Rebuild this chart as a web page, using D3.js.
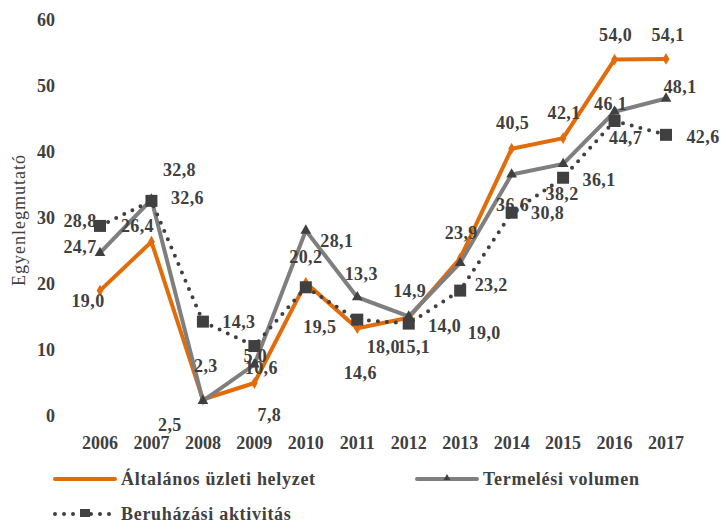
<!DOCTYPE html>
<html lang="hu">
<head>
<meta charset="UTF-8">
<title>Egyenlegmutató</title>
<style>
  body { margin: 0; background: #fff; }
  svg text { font-family: "Palatino Linotype", "Book Antiqua", "Liberation Serif", serif; fill: #404040; }
  .tick { font-weight: bold; font-size: 18px; }
  .lbl { font-weight: bold; font-size: 18px; letter-spacing: 0.4px; }
  .legend { font-weight: bold; font-size: 18px; letter-spacing: 0.7px; }
</style>
</head>
<body>
<script src="https://d3js.org/d3.v7.min.js"></script>
<script>
const years = ["2006","2007","2008","2009","2010","2011","2012","2013","2014","2015","2016","2017"];
const altalanos = [19.0, 26.4, 2.5, 5.0, 20.2, 13.3, 14.9, 23.9, 40.5, 42.1, 54.0, 54.1];
const termelesi = [24.7, 32.8, 2.3, 7.8, 28.1, 18.0, 15.1, 23.2, 36.6, 38.2, 46.1, 48.1];
const beruhazasi = [28.8, 32.6, 14.3, 10.6, 19.5, 14.6, 14.0, 19.0, 30.8, 36.1, 44.7, 42.6];
const yTicks = [0, 10, 20, 30, 40, 50, 60];

// label offsets (relative to the point), as placed in the original
const offOrange = [[-12,10],[-14,-16],[-33,25],[1,-27],[0,-26],[4,-55],[1,-27],[1,-26],[1,-26],[1,-25],[1,-25],[2,-24]];
const offGray = [[-20,-6],[28,-30],[3,-35],[15,50],[31,10],[26,49],[5,30],[31,22],[1,30],[-1,30],[-4,-8],[14,-12]];
const offSquare = [[-20,-5],[36,-3],[36,0],[7,22],[14,39],[3,53],[36,2],[24,42],[36,0],[36,2],[11,17],[37,2]];

const W = 723, H = 524;
const svg = d3.select("body").append("svg").attr("width", W).attr("height", H);

const x = d3.scalePoint().domain(years).range([100, 666]);
const y = d3.scaleLinear().domain([0, 60]).range([416, 20]);

const fmt = v => v.toFixed(1).replace(".", ",");

// y axis labels
svg.append("g").selectAll("text").data(yTicks).join("text")
  .attr("class", "tick")
  .attr("x", 55).attr("y", d => y(d)).attr("dy", "0.35em")
  .attr("text-anchor", "end").text(d => d);

// x axis labels
svg.append("g").selectAll("text").data(years).join("text")
  .attr("class", "tick")
  .attr("x", d => x(d)).attr("y", 443).attr("dy", "0.35em")
  .attr("text-anchor", "middle").text(d => d);

svg.append("text")
  .attr("transform", "translate(19,220) rotate(-90)")
  .attr("text-anchor", "middle").attr("dy", "0.35em")
  .style("font-size", "18px").style("letter-spacing", "1px")
  .text("Egyenlegmutató");

const line = d3.line().x((d, i) => x(years[i])).y(d => y(d));

const series = [
  { name: "Általános üzleti helyzet", vals: altalanos, color: "#e36c0a", width: 4, dash: null, marker: "diamond", off: offOrange },
  { name: "Termelési volumen", vals: termelesi, color: "#7f7f7f", width: 4, dash: null, marker: "triangle", off: offGray },
  { name: "Beruházási aktivitás", vals: beruhazasi, color: "#404040", width: 4, dash: "0,9", marker: "square", off: offSquare }
];

function drawMarker(g, type, cx, cy) {
  if (type === "diamond") {
    g.append("path").attr("d", d3.symbol(d3.symbolDiamond, 40)())
      .attr("transform", `translate(${cx},${cy})`).attr("fill", "#e36c0a");
  } else if (type === "triangle") {
    g.append("path").attr("d", d3.symbol(d3.symbolTriangle, 50)())
      .attr("transform", `translate(${cx},${cy})`).attr("fill", "#404040");
  } else {
    g.append("rect").attr("x", cx - 6).attr("y", cy - 6).attr("width", 12).attr("height", 12)
      .attr("fill", "#404040");
  }
}

series.forEach(s => {
  const g = svg.append("g");
  g.append("path").datum(s.vals)
    .attr("d", line)
    .attr("fill", "none")
    .attr("stroke", s.color)
    .attr("stroke-width", s.width)
    .attr("stroke-linecap", "round")
    .attr("stroke-linejoin", "miter")
    .attr("stroke-dasharray", s.dash);
  s.vals.forEach((v, i) => drawMarker(g, s.marker, x(years[i]), y(v)));
});

series.forEach(s => {
  svg.append("g").selectAll("text").data(s.vals).join("text")
    .attr("class", "lbl")
    .attr("x", (d, i) => x(years[i]) + s.off[i][0])
    .attr("y", (d, i) => y(d) + s.off[i][1])
    .attr("dy", "0.35em")
    .attr("text-anchor", "middle")
    .text(fmt);
});

// legend
const legendPos = [[55, 479], [417, 479], [55, 514]];
series.forEach((s, i) => {
  const [lx, ly] = legendPos[i];
  const g = svg.append("g");
  g.append("line").attr("x1", lx).attr("x2", lx + 60).attr("y1", ly).attr("y2", ly)
    .attr("stroke", s.color).attr("stroke-width", s.width)
    .attr("stroke-linecap", "round").attr("stroke-dasharray", s.dash);
  if (s.marker === "square") {
    g.append("rect").attr("x", lx + 25).attr("y", ly - 5).attr("width", 10).attr("height", 8).attr("fill", "#404040");
  } else if (s.marker === "triangle") {
    g.append("path").attr("d", d3.symbol(d3.symbolTriangle, 20)()).attr("transform", `translate(${lx + 30},${ly - 1})`).attr("fill", "#404040");
  }
  g.append("text").attr("class", "legend")
    .attr("x", lx + 66).attr("y", ly).attr("dy", "0.35em").text(s.name);
});
</script>
</body>
</html>
